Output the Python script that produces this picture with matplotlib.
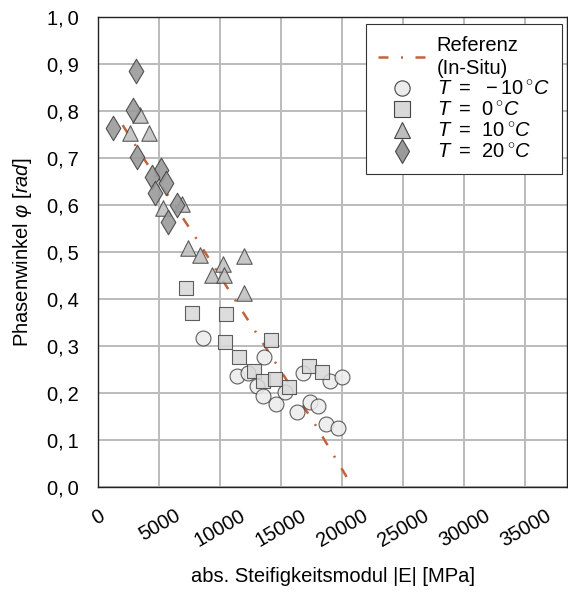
# python3

import matplotlib
matplotlib.use('Agg')
import matplotlib.pyplot as plt
from matplotlib.lines import Line2D

ref_x = [2000, 3700, 8000, 11300, 14600, 17900, 20600]
ref_y = [0.77, 0.70, 0.53, 0.394, 0.261, 0.127, 0.01]

m10_x = [8560, 13590, 11400, 12300, 12990, 13535, 14575, 15310, 16815, 19005,
         19965, 17365, 17995, 16325, 18675, 19635]
m10_y = [0.316, 0.276, 0.236, 0.242, 0.215, 0.192, 0.176, 0.202, 0.242, 0.224,
         0.234, 0.180, 0.172, 0.159, 0.134, 0.124]

t0_x = [7190, 7660, 10450, 10390, 14140, 11565, 12770, 13535, 14495, 15665, 17280, 18320]
t0_y = [0.423, 0.369, 0.368, 0.309, 0.313, 0.276, 0.247, 0.224, 0.229, 0.213, 0.258, 0.244]

t10_x = [3420, 2600, 4160, 5330, 6890, 7380, 8340, 11975, 10250, 9300, 10310, 11975]
t10_y = [0.792, 0.754, 0.754, 0.593, 0.602, 0.508, 0.494, 0.491, 0.474, 0.451, 0.451, 0.413]

t20_x = [3090, 2820, 1230, 3150, 5120, 4380, 5530, 4650, 6430, 5690]
t20_y = [0.885, 0.802, 0.763, 0.703, 0.675, 0.659, 0.646, 0.625, 0.599, 0.563]

x_ticks = [0, 5000, 10000, 15000, 20000, 25000, 30000, 35000]
y_ticks = [0.0, 0.1, 0.2, 0.3, 0.4, 0.5, 0.6, 0.7, 0.8, 0.9, 1.0]

plt.rcParams['font.family'] = ['Liberation Sans', 'DejaVu Sans']
plt.rcParams['mathtext.fontset'] = 'custom'
plt.rcParams['mathtext.rm'] = 'Liberation Sans'
plt.rcParams['mathtext.it'] = 'Liberation Sans:italic'
plt.rcParams['font.size'] = 14.5

fig = plt.figure(figsize=(5.68, 5.92), dpi=100)
ax = fig.add_axes([0.173, 0.178, 0.825, 0.793])

ref_color = '#c4623a'
edge = '#444444'
ref_dash = [4, 5, 0.8, 5]

ax.plot(ref_x, ref_y, color=ref_color, lw=1.8, dashes=ref_dash, zorder=3)
ax.scatter(m10_x, m10_y, s=115, marker='o', facecolor='#ececec', edgecolor=edge,
           linewidth=0.8, alpha=0.85, zorder=4)
ax.scatter(t0_x, t0_y, s=115, marker='s', facecolor='#d8d8d8', edgecolor=edge,
           linewidth=0.8, alpha=0.85, zorder=4)
ax.scatter(t10_x, t10_y, s=125, marker='^', facecolor='#bdbdbd', edgecolor=edge,
           linewidth=0.8, alpha=0.85, zorder=4)
ax.scatter(t20_x, t20_y, s=155, marker='d', facecolor='#9a9a9a', edgecolor=edge,
           linewidth=0.8, alpha=0.9, zorder=4)

ax.set_xlim(0, 38400)
ax.set_ylim(0, 1.0)
ax.set_xticks(x_ticks)
ax.set_yticks(y_ticks)
ax.set_xticklabels([str(v) for v in x_ticks], rotation=30, ha='center', va='top')
ax.set_yticklabels([('%.1f' % v).replace('.', ',\u2009') for v in y_ticks])
ax.tick_params(axis='x', length=0, pad=14)
ax.tick_params(axis='y', length=0, pad=14)
ax.grid(True, color='#bbbbbb', lw=1.4)
ax.set_axisbelow(True)
for s in ax.spines.values():
    s.set_color('#222222')
    s.set_linewidth(1.0)

ax.set_xlabel('abs. Steifigkeitsmodul |E| [MPa]', labelpad=12)
ax.set_ylabel(r'Phasenwinkel $\varphi\ [rad]$', labelpad=9)

handles = [
    Line2D([], [], color=ref_color, lw=1.8, dashes=ref_dash),
    Line2D([], [], ls='', marker='o', ms=11, mfc='#ececec', mec=edge, mew=0.8),
    Line2D([], [], ls='', marker='s', ms=11, mfc='#d8d8d8', mec=edge, mew=0.8),
    Line2D([], [], ls='', marker='^', ms=11, mfc='#bdbdbd', mec=edge, mew=0.8),
    Line2D([], [], ls='', marker='d', ms=12, mfc='#9a9a9a', mec=edge, mew=0.8),
]
labels = ['Referenz\n(In-Situ)',
          r'$T\ =\ \,-10\,^{\circ}C$',
          r'$T\ =\ \,0\,^{\circ}C$',
          r'$T\ =\ \,10\,^{\circ}C$',
          r'$T\ =\ \,20\,^{\circ}C$']
leg = ax.legend(handles, labels, loc='upper right', bbox_to_anchor=(0.989, 0.986),
                borderaxespad=0, fancybox=False, framealpha=1, edgecolor='#333333',
                handlelength=2.3, handletextpad=0.6, labelspacing=0.1,
                borderpad=0.6)
leg.get_frame().set_linewidth(0.8)
for t in leg.get_texts():
    t.set_linespacing(1.25)

fig.savefig('out.png', dpi=100)
